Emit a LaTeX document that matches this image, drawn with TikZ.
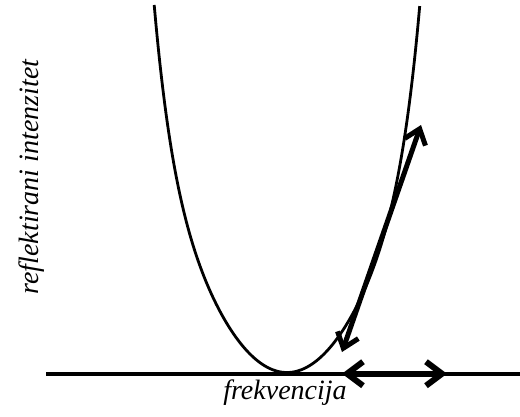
\documentclass[tikz,border=0pt]{standalone}
\usepackage{fontspec}
\setmainfont{Liberation Serif}
\usetikzlibrary{arrows.meta}
\begin{document}
\begin{tikzpicture}[x=1pt,y=-1pt,
  curve/.style={line width=2.8pt},
  axisline/.style={line width=3.6pt},
  tanarrow/.style={line width=5pt,
    {Straight Barb[length=14pt,width=22pt]}-{Straight Barb[length=14pt,width=22pt]}},
  shiftarrow/.style={line width=6pt,
    {Straight Barb[length=16pt,width=24pt]}-{Straight Barb[length=16pt,width=24pt]}},
  lbl/.style={font=\fontsize{28}{32}\selectfont\itshape, inner sep=0pt}]
\useasboundingbox (0,0) rectangle (520,416);
% axis
\coordinate (axL) at (46,373.7);
\coordinate (axR) at (520,373.7);
\draw[axisline] (axL) -- (axR);
% curve
\draw[curve] plot[domain=-1.328:1.328, samples=151, smooth]
  ({287+100*\x}, {372.5-(134.9*\x*\x + 13.4*(\x*\x)^4)});
% tangent arrow
\coordinate (tA) at (342,352);
\coordinate (tB) at (421,125);
\draw[tanarrow] (tA) -- (tB);
% horizontal shift arrow
\coordinate (hA) at (342,373.7);
\coordinate (hB) at (447,373.7);
\draw[shiftarrow] (hA) -- (hB);
% labels
\node[lbl, anchor=base] (xlab) at (285,399) {frekvencija};
\node[lbl, rotate=90] (ylab) at (32,177) {reflektirani intenzitet};
\end{tikzpicture}
\end{document}
